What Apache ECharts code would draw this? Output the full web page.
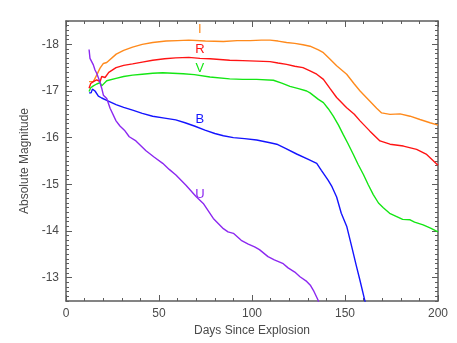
<!DOCTYPE html>
<html>
<head>
<meta charset="utf-8">
<script src="https://cdn.jsdelivr.net/npm/echarts@6/dist/echarts.min.js"></script>
<style>html,body{margin:0;padding:0;background:#fff}#c{width:457px;height:343px}</style>
</head>
<body>
<div id="c"></div>
<script>
// ---- data (days since explosion, absolute magnitude) ----
const bandNames = ['I', 'R', 'V', 'B', 'U'];
const bandColors = ['#ff8a1c', '#ff1414', '#14e614', '#1414ff', '#8c28f0'];

const bandI = [[12.4,-17.2],[14.7,-17.2],[15.6,-17.27],[16.5,-17.34],[18.3,-17.49],[20.1,-17.59],[21.9,-17.61],[27,-17.79],[31,-17.87],[35.8,-17.94],[41,-18.0],[46.6,-18.04],[53.8,-18.07],[60,-18.08],[66,-18.09],[75,-18.07],[84.6,-18.06],[92,-18.08],[99,-18.08],[105,-18.09],[109.7,-18.09],[114,-18.07],[118.6,-18.04],[123,-18.02],[127.4,-17.99],[131.2,-17.96],[135.7,-17.88],[138.4,-17.82],[142,-17.68],[145.5,-17.54],[150.9,-17.36],[155,-17.15],[158.1,-17.0],[163.4,-16.78],[167,-16.63],[169.7,-16.53],[174.2,-16.5],[179.6,-16.51],[185,-16.46],[190.3,-16.39],[195.7,-16.32],[200,-16.27]];

const bandR = [[12.4,-17.06],[13.3,-17.16],[14.7,-17.2],[16.5,-17.24],[18.3,-17.2],[19.2,-17.31],[21,-17.29],[23,-17.4],[26.9,-17.5],[31,-17.55],[35.8,-17.58],[41,-17.62],[46.6,-17.66],[53,-17.69],[59,-17.71],[66,-17.72],[72,-17.7],[77.4,-17.69],[88,-17.66],[95,-17.65],[102.5,-17.64],[109.7,-17.63],[114,-17.6],[118.6,-17.57],[123,-17.53],[127.4,-17.5],[131.2,-17.43],[134.8,-17.36],[138.4,-17.25],[142,-17.05],[145.5,-16.86],[150.9,-16.64],[155,-16.5],[158.1,-16.36],[163.4,-16.14],[168.8,-15.93],[174.2,-15.86],[181.4,-15.82],[188.5,-15.75],[193.9,-15.64],[200,-15.41]];

const bandV = [[12.4,-16.99],[13.3,-17.07],[14.7,-17.11],[16.5,-17.15],[18.3,-17.18],[19.2,-17.11],[20,-17.12],[21.9,-17.22],[26.9,-17.27],[31,-17.31],[35.8,-17.34],[41,-17.36],[46.6,-17.38],[52,-17.39],[57.4,-17.38],[63,-17.37],[69,-17.35],[77.4,-17.3],[88,-17.26],[95,-17.25],[102.5,-17.25],[111.5,-17.23],[116,-17.17],[120.4,-17.1],[125,-17.05],[129.4,-17.0],[131.2,-16.96],[135.7,-16.82],[138.4,-16.75],[141,-16.62],[143.7,-16.46],[146.5,-16.27],[149,-16.07],[151.5,-15.88],[154.5,-15.64],[157,-15.43],[159.9,-15.21],[162.5,-14.99],[165.2,-14.78],[168,-14.6],[170.6,-14.5],[174,-14.38],[177.8,-14.31],[181,-14.25],[185,-14.24],[187.4,-14.19],[192,-14.13],[196,-14.06],[200,-13.98]];

const bandB = [[12.4,-16.96],[13.5,-16.96],[14.2,-17.04],[15.6,-17.0],[17.4,-16.89],[19.2,-16.85],[21.9,-16.8],[26.9,-16.71],[31,-16.65],[35.8,-16.59],[41,-16.52],[46.6,-16.46],[53,-16.42],[59,-16.38],[64,-16.32],[69,-16.25],[74.7,-16.16],[80,-16.09],[84.6,-16.04],[90,-16.0],[96,-15.98],[102.5,-15.95],[109.7,-15.89],[113.3,-15.86],[118,-15.77],[124,-15.65],[130,-15.54],[134.8,-15.45],[137.3,-15.3],[140.9,-15.09],[143,-14.95],[145.5,-14.73],[148,-14.38],[151,-14.09],[154,-13.6],[156,-13.27],[158,-12.95],[160.6,-12.52],[161.5,-12.38]];

const bandU = [[12.4,-17.89],[12.9,-17.7],[13.8,-17.68],[14.7,-17.56],[15.6,-17.45],[16.5,-17.38],[17.9,-17.23],[19.2,-17.06],[20.1,-16.91],[21,-16.95],[21.9,-16.84],[23.7,-16.63],[26.9,-16.36],[29,-16.25],[31.4,-16.16],[34,-16.02],[37.6,-15.93],[43,-15.72],[47.5,-15.58],[52,-15.45],[55.5,-15.32],[59.1,-15.2],[64.5,-14.98],[69.9,-14.74],[73.8,-14.59],[79.2,-14.27],[84.6,-14.05],[87.1,-13.98],[90,-13.95],[94.2,-13.8],[98,-13.72],[101.4,-13.66],[104,-13.6],[108.6,-13.45],[112,-13.38],[116.8,-13.3],[119.4,-13.21],[123,-13.12],[125.8,-13.02],[129.4,-12.92],[131.5,-12.83],[133,-12.73],[135.5,-12.52],[136,-12.45]];

const bandData = [bandI, bandR, bandV, bandB, bandU];

// band label anchors in data coordinates [day, magnitude]
const bandLabelAt = [[72,-18.31],[72,-17.9],[72,-17.49],[72,-16.4],[72,-14.79]];

// tick labels
const xTicks = [0, 50, 100, 150, 200];
const yTicks = [-18, -17, -16, -15, -14, -13];
const xTitle = 'Days Since Explosion';
const yTitle = 'Absolute Magnitude';

// ---- chart ----
const FONT = "'Liberation Sans', Arial, Helvetica, sans-serif";
const AXC = '#5c5c5c';
const TXC = '#4a4a4a';

function yAx(pos, major, withLabels) {
  const ax = {
    type: 'value', position: pos, inverse: true, min: -18.5, max: -12.5,
    axisLine: { show: major, lineStyle: { color: AXC, width: 1.5 } },
    splitLine: { show: false },
    axisTick: { inside: true, length: major ? 6 : 3, lineStyle: { color: AXC, width: 1 } },
    axisLabel: { show: false }
  };
  if (major) {
    ax.axisTick.customValues = yTicks;
    ax.axisLabel = withLabels ? { show: true, customValues: yTicks, color: TXC, fontSize: 12, fontFamily: FONT, margin: 7 } : { show: false };
  } else {
    ax.interval = 0.1;
  }
  if (withLabels) {
    ax.name = yTitle; ax.nameLocation = 'middle'; ax.nameGap = 27;
    ax.nameTextStyle = { color: TXC, fontSize: 12, fontFamily: FONT };
  }
  return ax;
}

function xAx(pos, withLabels) {
  const ax = {
    type: 'value', position: pos, min: 0, max: 200, interval: 50,
    axisLine: { show: true, onZero: false, lineStyle: { color: AXC, width: 1.5 } },
    splitLine: { show: false },
    axisTick: { inside: true, length: 6, lineStyle: { color: AXC, width: 1 } },
    minorTick: { show: true, splitNumber: 5, length: 3, lineStyle: { color: AXC, width: 1 } },
    axisLabel: withLabels ? { show: true, color: TXC, fontSize: 12, fontFamily: FONT, margin: 7 } : { show: false }
  };
  if (withLabels) {
    ax.name = xTitle; ax.nameLocation = 'middle'; ax.nameGap = 19;
    ax.nameTextStyle = { color: TXC, fontSize: 12, fontFamily: FONT };
  }
  return ax;
}

const series = bandData.map((d, i) => ({
  type: 'line', name: bandNames[i], data: d, xAxisIndex: 0, yAxisIndex: 0,
  showSymbol: false, symbol: 'none', clip: true, animation: false,
  lineStyle: { color: bandColors[i], width: 1.4 },
  markPoint: {
    symbol: 'circle', symbolSize: 0, animation: false,
    label: { show: true, position: 'inside', formatter: bandNames[i], color: bandColors[i], fontSize: 13, fontFamily: FONT },
    data: [{ coord: bandLabelAt[i] }]
  }
}));

const chart = echarts.init(document.getElementById('c'), null, { renderer: 'canvas' });
chart.setOption({
  backgroundColor: '#fff',
  animation: false,
  grid: { left: 66, top: 21, right: 19, bottom: 42, containLabel: false },
  xAxis: [xAx('bottom', true), xAx('top', false)],
  yAxis: [yAx('left', true, true), yAx('left', false, false), yAx('right', true, false), yAx('right', false, false)],
  series: series
});
</script>
</body>
</html>
